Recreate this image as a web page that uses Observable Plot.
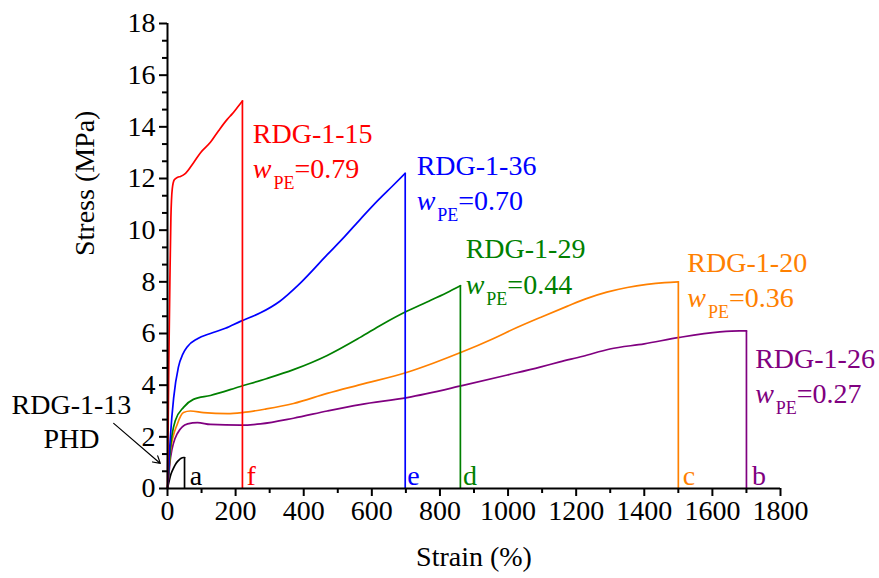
<!DOCTYPE html>
<html>
<head>
<meta charset="utf-8">
<script src="https://cdn.jsdelivr.net/npm/d3@7"></script>
<script src="https://cdn.jsdelivr.net/npm/@observablehq/plot@0.6"></script>
<style>
  html, body { margin: 0; padding: 0; background: #fff; }
  #chart { width: 879px; height: 578px; }
  #chart svg, #chart svg text, #chart svg tspan { font-family: "Liberation Serif", "Times New Roman", Tinos, Times, "DejaVu Serif", serif !important; }
</style>
</head>
<body>
<div id="chart"></div>
<script>
// ---- data (strain %, stress MPa) ----
const blackStrain = [0, 5, 10, 18, 25, 32, 40, 47, 50, 50];
const blackStress = [0, 0.3, 0.55, 0.8, 0.97, 1.08, 1.17, 1.2, 1.2, 0];

const redStrain = [0, 2, 4, 7, 10, 14, 20, 30, 38, 53, 76, 97, 126, 150, 176, 190, 205, 220, 220];
const redStress = [0, 2.5, 5, 8, 10.5, 11.6, 11.95, 12.05, 12.08, 12.2, 12.6, 13.0, 13.4, 13.85, 14.3, 14.5, 14.75, 15.0, 0];

const blueStrain = [0, 3, 5, 9, 18, 32, 45, 59, 88, 126, 170, 214, 273, 330, 390, 469, 520, 566, 620, 660, 698, 698];
const blueStress = [0, 0.6, 1.2, 2.1, 3.5, 4.7, 5.2, 5.5, 5.8, 6.0, 6.2, 6.47, 6.8, 7.25, 7.95, 9.05, 9.75, 10.42, 11.18, 11.7, 12.2, 0];

const greenStrain = [0, 3, 9, 23, 47, 76, 126, 214, 290, 370, 469, 566, 630, 704, 762, 820, 860, 860];
const greenStress = [0, 0.5, 1.6, 2.63, 3.14, 3.45, 3.6, 3.95, 4.25, 4.6, 5.15, 5.85, 6.35, 6.87, 7.22, 7.58, 7.85, 0];

const orangeStrain = [0, 3, 9, 29, 47, 67, 106, 176, 220, 290, 370, 469, 566, 704, 780, 868, 956, 1026, 1100, 1173, 1230, 1290, 1350, 1408, 1460, 1500, 1500];
const orangeStress = [0, 0.5, 1.47, 2.5, 2.94, 3.0, 2.94, 2.9, 2.94, 3.08, 3.29, 3.68, 4.02, 4.5, 4.85, 5.3, 5.8, 6.23, 6.65, 7.05, 7.35, 7.6, 7.78, 7.9, 7.97, 8.0, 0];

const purpleStrain = [0, 3, 9, 29, 59, 88, 126, 214, 273, 370, 469, 566, 704, 868, 1000, 1094, 1152, 1220, 1299, 1400, 1504, 1622, 1680, 1700, 1700];
const purpleStress = [0, 0.4, 1.2, 2.13, 2.5, 2.55, 2.48, 2.45, 2.5, 2.72, 3.0, 3.25, 3.52, 3.99, 4.4, 4.7, 4.9, 5.12, 5.4, 5.6, 5.85, 6.06, 6.1, 6.1, 0];

// ---- sample labels ----
const sampleNames = ["RDG-1-15", "RDG-1-36", "RDG-1-29", "RDG-1-20", "RDG-1-26"];
const sampleW = ["0.79", "0.70", "0.44", "0.36", "0.27"];
const sampleColors = ["#ff0000", "#0000ff", "#008000", "#ff8000", "#800080"];
const nameX = [252, 733, 877, 1528, 1727];
const nameY = [13.36, 12.1, 8.9, 8.36, 4.65];
const wY = [12.0, 10.76, 7.5, 7.0, 3.29];

// curve end letters
const letters = ["a", "f", "e", "d", "c", "b"];
const letterX = [65, 232, 704, 868, 1513, 1716];
const letterColors = ["#000000", "#ff0000", "#0000ff", "#008000", "#ff8000", "#800080"];

// ticks
const xMajor = [0, 200, 400, 600, 800, 1000, 1200, 1400, 1600, 1800];
const xMinor = [100, 300, 500, 700, 900, 1100, 1300, 1500, 1700];
const yMajor = [0, 2, 4, 6, 8, 10, 12, 14, 16, 18];
const yMinor = [0.667, 1.333, 2.667, 3.333, 4.667, 5.333, 6.667, 7.333, 8.667, 9.333, 10.667, 11.333, 12.667, 13.333, 14.667, 15.333, 16.667, 17.333];

const FONT = "Liberation Serif, Times New Roman, Tinos, DejaVu Serif, serif";

function pts(xs, ys) { return xs.map((x, i) => ({strain: x, stress: ys[i]})); }

const seriesDefs = [
  [blackStrain, blackStress, "#000000"],
  [purpleStrain, purpleStress, "#800080"],
  [orangeStrain, orangeStress, "#ff8000"],
  [greenStrain, greenStress, "#008000"],
  [blueStrain, blueStress, "#0000ff"],
  [redStrain, redStress, "#ff0000"]
];

const curveMarks = [];
for (const [xs, ys, color] of seriesDefs) {
  const n = xs.length;
  curveMarks.push(Plot.line(pts(xs.slice(0, n - 1), ys.slice(0, n - 1)),
    {x: "strain", y: "stress", stroke: color, strokeWidth: 1.7, curve: "monotone-x"}));
  curveMarks.push(Plot.ruleX([{strain: xs[n - 1], top: ys[n - 2], bottom: ys[n - 1]}],
    {x: "strain", y1: "bottom", y2: "top", stroke: color, strokeWidth: 1.7}));
}

function sampleLabels(index, scales) {
  const g = d3.create("svg:g")
    .attr("font-family", FONT).attr("font-size", 28).attr("text-anchor", "start");
  sampleNames.forEach((name, i) => {
    const x = scales.x(nameX[i]);
    g.append("text").attr("x", x).attr("y", scales.y(nameY[i])).attr("fill", sampleColors[i]).text(name);
    const t = g.append("text").attr("x", x).attr("y", scales.y(wY[i])).attr("fill", sampleColors[i]);
    t.append("tspan").attr("font-style", "italic").text("w");
    t.append("tspan").attr("font-size", 18).attr("dx", 2).attr("dy", 11).text("PE");
    t.append("tspan").attr("dy", -11).text("=" + sampleW[i]);
  });
  return g.node();
}

const chart = Plot.plot({
  width: 879,
  height: 578,
  marginLeft: 167,
  marginRight: 99,
  marginTop: 23,
  marginBottom: 90,
  style: {fontFamily: FONT, fontSize: "28px", color: "#000", background: "#fff", overflow: "visible"},
  x: {domain: [0, 1800]},
  y: {domain: [0, 18]},
  marks: [
    ...curveMarks,
    Plot.ruleX([0], {y1: 0, y2: 18, stroke: "#000", strokeWidth: 2}),
    Plot.ruleY([0], {x1: 0, x2: 1800, stroke: "#000", strokeWidth: 2}),
    Plot.axisX(xMajor, {tickSize: 8, tickPadding: 4, fontSize: 28, label: null, strokeWidth: 2, tickFormat: d => String(d)}),
    Plot.axisX(xMinor, {tickSize: 5, text: null, label: null, strokeWidth: 2}),
    Plot.axisY(yMajor, {tickSize: 8, tickPadding: 4, fontSize: 28, label: null, strokeWidth: 2, tickFormat: d => String(d)}),
    Plot.axisY(yMinor, {tickSize: 5, text: null, label: null, strokeWidth: 2}),
    Plot.text(["Stress (MPa)"], {frameAnchor: "left", rotate: -90, dx: -82, fontSize: 28, fill: "#000"}),
    Plot.text(["Strain (%)"], {frameAnchor: "bottom", dy: 77, fontSize: 28, fill: "#000"}),
    Plot.text(letters, {x: letterX, y: letters.map(() => 0), text: d => d, fill: letterColors, textAnchor: "start", lineAnchor: "bottom", dy: -4, fontSize: 28}),
    Plot.text(["RDG-1-13"], {x: -282, y: 2.9, textAnchor: "middle", lineAnchor: "bottom", fontSize: 28, fill: "#000"}),
    Plot.text(["PHD"], {x: -282, y: 1.55, textAnchor: "middle", lineAnchor: "bottom", fontSize: 28, fill: "#000"}),
    Plot.arrow([{x1: -158, y1: 2.52, x2: -21, y2: 0.97}], {x1: "x1", y1: "y1", x2: "x2", y2: "y2", stroke: "#000", strokeWidth: 1.2, headLength: 10, clip: false}),
    sampleLabels
  ]
});
document.getElementById("chart").appendChild(chart);
</script>
</body>
</html>
